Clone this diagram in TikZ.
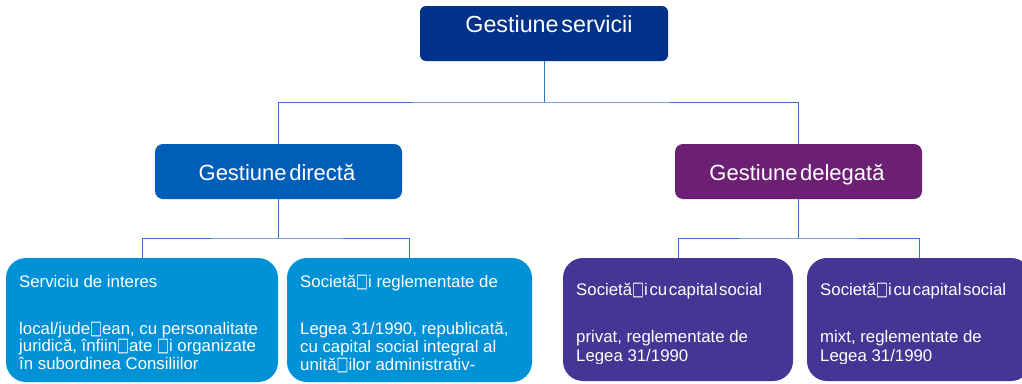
\documentclass[tikz,border=0pt]{standalone}
\usepackage{fontspec}
\setmainfont{Liberation Sans}
\newfontfamily\symfnt{DejaVu Sans}
\newcommand{\nbx}{{\symfnt\fontsize{12}{12}\selectfont\scalebox{1.05}[1.6]{□}}}
\definecolor{topc}{RGB}{0,50,138}
\definecolor{dirc}{RGB}{0,94,184}
\definecolor{delc}{RGB}{107,32,116}
\definecolor{lblue}{RGB}{0,145,215}
\definecolor{lpurp}{RGB}{70,53,148}
\definecolor{linec}{RGB}{46,117,198}
\tikzset{
  boxbase/.style={draw=none, anchor=north west, inner sep=0pt, outer sep=0pt},
  topbox/.style={boxbase, fill=topc, rounded corners=6pt},
  midbox/.style={boxbase, rounded corners=8pt},
  lowbox/.style={boxbase, rounded corners=20pt},
  bigtxt/.style={text=white, inner sep=0pt, anchor=base, font=\fontsize{22}{22}\selectfont},
  smalltxt/.style={text=white, inner sep=0pt, anchor=base west, font=\fontsize{16.8}{17}\selectfont},
  conn/.style={draw=linec, line width=0.9pt},
}
\begin{document}
\begin{tikzpicture}[x=1pt,y=-1pt]
\clip (0,0) rectangle (1022,383);
\fill[white] (0,0) rectangle (1022,383);
% boxes
\node[topbox, minimum width=248pt, minimum height=55pt] (top) at (420,6) {};
\node[midbox, fill=dirc, minimum width=247pt, minimum height=55pt] (dir) at (155,144) {};
\node[midbox, fill=delc, minimum width=247pt, minimum height=55pt] (del) at (675,144) {};
\node[lowbox, fill=lblue, minimum width=272pt, minimum height=124pt] (b1) at (6,258) {};
\node[lowbox, fill=lblue, minimum width=245pt, minimum height=124pt] (b2) at (287,258) {};
\node[lowbox, fill=lpurp, minimum width=230pt, minimum height=123pt] (b3) at (563,258) {};
\node[lowbox, fill=lpurp, minimum width=224pt, minimum height=123pt] (b4) at (807,258) {};
% bus coordinates
\coordinate (busA) at (0,102);
\coordinate (busB) at (0,238);
% connectors
\draw[conn] (top.south) -- (top.south |- busA);
\draw[conn] (dir.north) |- (top.south |- busA) -| (del.north);
\draw[conn] (dir.south) -- (dir.south |- busB);
\draw[conn] (b1.north) |- (dir.south |- busB) -| (b2.north);
\draw[conn] (del.south) -- (del.south |- busB);
\draw[conn] (b3.north) |- (del.south |- busB) -| (b4.north);
% headings
\node[bigtxt, font=\fontsize{23.3}{23}\selectfont] (toptxt) at (549,32) {\spaceskip=0.12em Gestiune servicii};
\node[bigtxt] (dirtxt) at (277,180) {\spaceskip=0.12em Gestiune directă};
\node[bigtxt] (deltxt) at (797,180) {\spaceskip=0.12em Gestiune delegată};
% box 1
\node[smalltxt] (b1a) at (19,287) {Serviciu de interes};
\node[smalltxt] (b1b) at (19,334) {local/jude\nbx ean, cu personalitate};
\node[smalltxt] (b1c) at (19,351.5) {juridică, înfiin\nbx ate \nbx i organizate};
\node[smalltxt] (b1d) at (19,369) {în subordinea Consiliilor};
% box 2
\node[smalltxt] (b2a) at (300,287) {Societă\nbx i reglementate de};
\node[smalltxt] (b2b) at (300,334) {Legea 31/1990, republicată,};
\node[smalltxt] (b2c) at (300,352) {cu capital social integral al};
\node[smalltxt] (b2d) at (300,370) {unită\nbx ilor administrativ-};
% box 3 and 4
\node[smalltxt] (b3a) at (576,295) {\spaceskip=0.1em Societă\nbx i cu capital social};
\node[smalltxt] (b3b) at (576,342) {privat, reglementate de};
\node[smalltxt] (b4a) at (820,295) {\spaceskip=0.1em Societă\nbx i cu capital social};
\node[smalltxt] (b4b) at (820,342) {mixt, reglementate de};
\begin{scope}
\clip (560,300) rectangle (1022,363);
\node[smalltxt] (b3c) at (576,361) {Legea 31/1990};
\node[smalltxt] (b4c) at (820,361) {Legea 31/1990};
\end{scope}
\end{tikzpicture}
\end{document}
